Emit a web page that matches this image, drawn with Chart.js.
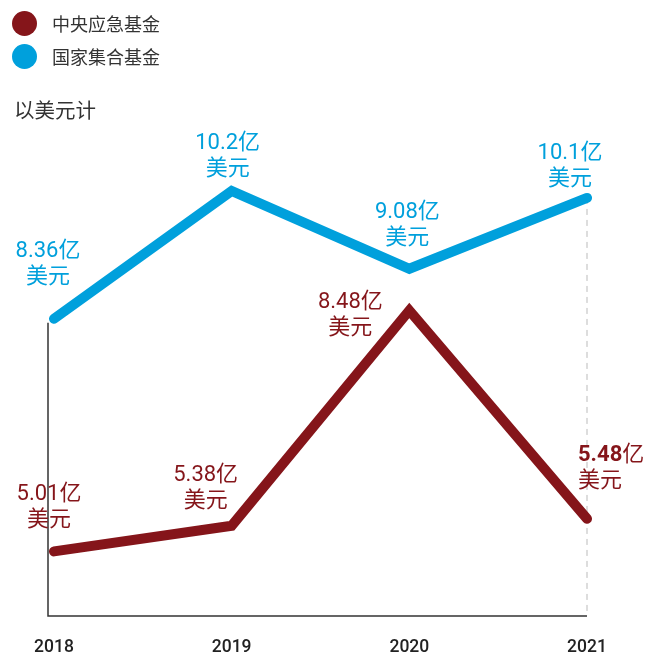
<!DOCTYPE html>
<html>
<head>
<meta charset="utf-8">
<script src="https://cdn.jsdelivr.net/npm/chart.js@4"></script>
<style>
    body { margin: 0; background: #fff; font-family: Roboto, "Noto Sans CJK SC", sans-serif; }
    #wrap { position: relative; width: 654px; height: 655px; }
    #chart { position: absolute; left: 0; top: 0; }
    .legend-item { position: absolute; left: 12px; display: flex; align-items: center; font-size: 18px; color: #333; }
    .legend-item span.dot { width: 25px; height: 25px; border-radius: 50%; margin-right: 15px; }
    #unit { position: absolute; left: 14px; top: 94px; font-size: 20.5px; color: #333; }
</style>
</head>
<body>
<div id="wrap">
    <canvas id="chart" width="654" height="655"></canvas>
    <div class="legend-item" style="top:10px"><span class="dot" style="background:#85151A"></span>中央应急基金</div>
    <div class="legend-item" style="top:43px"><span class="dot" style="background:#00A0DC"></span>国家集合基金</div>
    <div id="unit">以美元计</div>
</div>
<script>
const years = ['2018', '2019', '2020', '2021'];
const centralFund = [5.01, 5.38, 8.48, 5.48];   // 中央应急基金
const pooledFund = [8.36, 10.2, 9.08, 10.1];    // 国家集合基金
const unitWord = '亿';
const currencyWord = '美元';

const RED = '#85151A';
const BLUE = '#00A0DC';

// label placement relative to each point (dx, dy of first line)
const redLabelPos = [
    { dx: -5, dy: -57, align: 'center' },
    { dx: -26, dy: -50, align: 'center' },
    { dx: -59, dy: -8, align: 'center' },
    { dx: -9, dy: -63, align: 'left', bold: true }
];
const blueLabelPos = [
    { dx: -6, dy: -67, align: 'center' },
    { dx: -4, dy: -47, align: 'center' },
    { dx: -2, dy: -56, align: 'center' },
    { dx: -17, dy: -44, align: 'center' }
];

const FONT_FAMILY = 'Roboto, "Noto Sans CJK SC", sans-serif';

function drawValueLabel(ctx, x, y, value, pos, color) {
    const numFont = (pos.bold ? 'bold ' : '') + '22px ' + FONT_FAMILY;
    const unitFont = '22px ' + FONT_FAMILY;
    const num = String(value);
    ctx.save();
    ctx.fillStyle = color;
    ctx.textBaseline = 'middle';
    ctx.font = numFont;
    const wNum = ctx.measureText(num).width;
    ctx.font = unitFont;
    const wUnit = ctx.measureText(unitWord).width;
    const wCur = ctx.measureText(currencyWord).width;
    const total = wNum + wUnit;
    let left = pos.align === 'left' ? x + pos.dx : x + pos.dx - total / 2;
    const ly = y + pos.dy;
    ctx.textAlign = 'left';
    ctx.font = numFont;
    ctx.fillText(num, left, ly);
    ctx.font = unitFont;
    ctx.fillText(unitWord, left + wNum, ly);
    let curLeft = pos.align === 'left' ? x + pos.dx : x + pos.dx - wCur / 2;
    ctx.fillText(currencyWord, curLeft, ly + 26);
    ctx.restore();
}

const guidePlugin = {
    id: 'guides',
    beforeDatasetsDraw(chart) {
        const ctx = chart.ctx;
        const area = chart.chartArea;
        const xs = chart.scales.x;
        const ys = chart.scales.y;
        const axisX = xs.getPixelForValue(0) - 6;
        const lastX = xs.getPixelForValue(years.length - 1);
        ctx.save();
        // left axis, from first blue point down
        ctx.strokeStyle = '#333';
        ctx.lineWidth = 1.5;
        ctx.beginPath();
        ctx.moveTo(axisX, ys.getPixelForValue(pooledFund[0]) + 4);
        ctx.lineTo(axisX, area.bottom);
        ctx.lineTo(lastX, area.bottom);
        ctx.stroke();
        // dashed guide at last year
        ctx.strokeStyle = '#bbb';
        ctx.lineWidth = 1;
        ctx.setLineDash([6, 5]);
        ctx.beginPath();
        ctx.moveTo(lastX, ys.getPixelForValue(pooledFund[pooledFund.length - 1]));
        ctx.lineTo(lastX, area.bottom);
        ctx.stroke();
        ctx.restore();
    },
    afterDatasetsDraw(chart) {
        const ctx = chart.ctx;
        const redMeta = chart.getDatasetMeta(0);
        const blueMeta = chart.getDatasetMeta(1);
        redMeta.data.forEach((pt, i) => drawValueLabel(ctx, pt.x, pt.y, centralFund[i], redLabelPos[i], RED));
        blueMeta.data.forEach((pt, i) => drawValueLabel(ctx, pt.x, pt.y, pooledFund[i], blueLabelPos[i], BLUE));
    }
};

new Chart(document.getElementById('chart').getContext('2d'), {
    type: 'line',
    data: {
        labels: years,
        datasets: [
            {
                label: '中央应急基金',
                data: centralFund,
                borderColor: RED,
                backgroundColor: RED,
                borderWidth: 10,
                borderCapStyle: 'round',
                borderJoinStyle: 'miter',
                pointRadius: 0,
                tension: 0
            },
            {
                label: '国家集合基金',
                data: pooledFund,
                borderColor: BLUE,
                backgroundColor: BLUE,
                borderWidth: 10,
                borderCapStyle: 'round',
                borderJoinStyle: 'miter',
                pointRadius: 0,
                tension: 0
            }
        ]
    },
    options: {
        responsive: false,
        animation: false,
        layout: {
            padding: { left: 54, right: 67, top: 0, bottom: 0 }
        },
        scales: {
            x: {
                offset: false,
                grid: { display: false, drawTicks: false },
                border: { display: false },
                afterFit: function (scale) { scale.height = 39; },
                ticks: {
                    color: '#222',
                    padding: 21,
                    maxRotation: 0,
                    font: { family: FONT_FAMILY, size: 17.5, weight: '500' }
                }
            },
            y: {
                display: false,
                min: 4.08,
                max: 12.95
            }
        },
        plugins: {
            legend: { display: false },
            tooltip: { enabled: false }
        }
    },
    plugins: [guidePlugin]
});
</script>
</body>
</html>
